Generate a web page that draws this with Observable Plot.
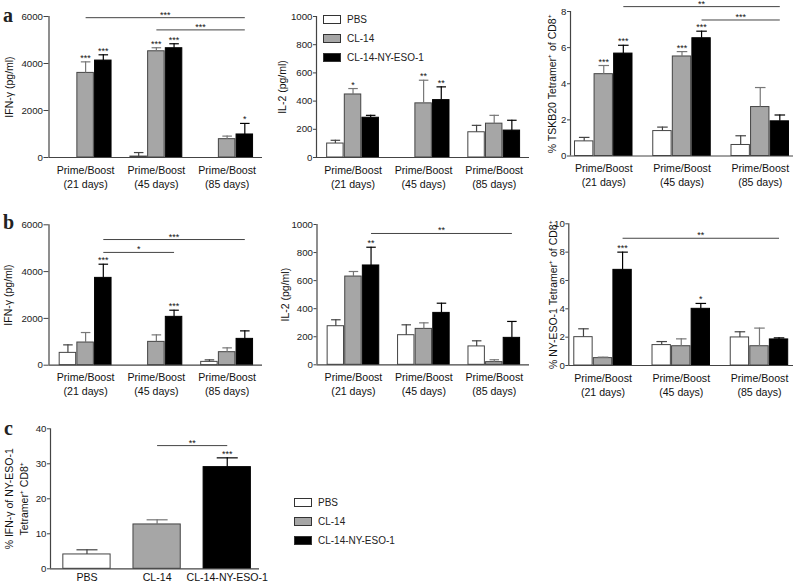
<!DOCTYPE html>
<html><head><meta charset="utf-8">
<script src="https://cdn.jsdelivr.net/npm/d3@7"></script>
<script src="https://cdn.jsdelivr.net/npm/@observablehq/plot@0.6"></script>
<style>
body{margin:0;background:#fff;}
#fig{position:relative;width:793px;height:583px;overflow:hidden;font-family:"Liberation Sans",Arial,Helvetica,sans-serif;color:#222;}
.panel{position:absolute;}
.letter{position:absolute;font-family:"Liberation Serif","Times New Roman",serif;font-weight:bold;font-size:20px;line-height:1;}
.legend{position:absolute;font-size:10px;}
.legend .row{display:flex;align-items:center;height:19px;}
.legend .sw{width:16px;height:7px;border:1px solid #333;margin-right:6px;}
</style></head><body><div id="fig"></div><script>
// ---------- data ----------
const series = ["PBS", "CL-14", "CL-14-NY-ESO-1"];
const groups = ["Prime/Boost\n(21 days)", "Prime/Boost\n(45 days)", "Prime/Boost\n(85 days)"];
const fills = ["#ffffff", "#a6a6a6", "#000000"];
const barStroke = ["#444444", "#444444", "#000000"];
const errStroke = ["#444444", "#777777", "#000000"];

// panel a – IFN-γ
const aIfnMean = [[null, 3600, 4125], [40, 4520, 4650], [null, 780, 980]];
const aIfnSem = [[null, 470, 245], [170, 150, 190], [null, 130, 470]];
const aIfnStars = [["", "***", "***"], ["", "***", "***"], ["", "", "*"]];
const aIfnBrackets = [{from: [0, 1], to: [2, 2], y: 5950, label: "***"}, {from: [1, 1], to: [2, 2], y: 5430, label: "***"}];
// panel a – IL-2
const aIl2Mean = [[99, 447, 282], [null, 384, 407], [179, 240, 191]];
const aIl2Sem = [[23, 42, 17], [null, 164, 94], [49, 59, 73]];
const aIl2Stars = [["", "*", ""], ["", "**", "**"], ["", "", ""]];
const aIl2Brackets = [];
// panel a – TSKB20 tetramer
const aTetMean = [[0.81, 4.53, 5.67], [1.38, 5.51, 6.52], [0.61, 2.71, 1.92]];
const aTetSem = [[0.22, 0.48, 0.46], [0.22, 0.27, 0.39], [0.51, 1.08, 0.35]];
const aTetStars = [["", "***", "***"], ["", "***", "***"], ["", "", ""]];
const aTetBrackets = [{from: [0, 2], to: [2, 2], y: 8.27, label: "**"}, {from: [1, 2], to: [2, 2], y: 7.53, label: "***"}];
// panel b – IFN-γ
const bIfnMean = [[527, 969, 3732], [null, 997, 2066], [142, 556, 1125]];
const bIfnSem = [[342, 427, 584], [null, 299, 284], [86, 185, 342]];
const bIfnStars = [["", "", "***"], ["", "", "***"], ["", "", ""]];
const bIfnBrackets = [{from: [0, 2], to: [2, 2], y: 5370, label: "***"}, {from: [0, 2], to: [1, 2], y: 4820, label: "*"}];
// panel b – IL-2
const bIl2Mean = [[275, 629, 708], [211, 256, 370], [131, 19, 192]];
const bIl2Sem = [[46, 36, 130], [74, 43, 69], [40, 17, 117]];
const bIl2Stars = [["", "", "**"], ["", "", ""], ["", "", ""]];
const bIl2Brackets = [{from: [0, 2], to: [2, 2], y: 936, label: "**"}];
// panel b – NY-ESO-1 tetramer
const bTetMean = [[2.0, 0.52, 6.75], [1.44, 1.36, 4.0], [1.98, 1.36, 1.84]];
const bTetSem = [[0.59, 0.07, 1.25], [0.25, 0.52, 0.38], [0.40, 1.28, 0.11]];
const bTetStars = [["", "", "***"], ["", "", "*"], ["", "", ""]];
const bTetBrackets = [{from: [0, 2], to: [2, 2], y: 8.98, label: "**"}];
// panel c
const cMean = [4.1, 12.67, 29.05];
const cSem = [1.33, 1.33, 2.65];
const cStars = ["", "", "***"];
const cBrackets = [{from: 1, to: 2, y: 35.2, label: "**"}];

// ---------- drawing ----------
const FONT = '"Liberation Sans", Arial, Helvetica, sans-serif';
const fig = document.getElementById("fig");
function place(node, left, top) {
  const w = document.createElement("div");
  w.className = "panel"; w.style.left = left + "px"; w.style.top = top + "px";
  w.appendChild(node); fig.appendChild(w);
}
function letter(t, left, top) {
  const d = document.createElement("div"); d.className = "letter";
  d.style.left = left + "px"; d.style.top = top + "px"; d.textContent = t; fig.appendChild(d);
}
function legend(left, top) {
  const d = document.createElement("div"); d.className = "legend";
  d.style.left = left + "px"; d.style.top = top + "px";
  series.forEach((s, i) => {
    const r = document.createElement("div"); r.className = "row";
    const sw = document.createElement("div"); sw.className = "sw"; sw.style.background = fills[i];
    const t = document.createElement("span"); t.textContent = s;
    r.appendChild(sw); r.appendChild(t); d.appendChild(r);
  });
  fig.appendChild(d);
}

function groupedPanel(p) {
  const rows = [];
  p.mean.forEach((gv, g) => gv.forEach((v, s) => {
    if (v == null) return;
    rows.push({s, slot: g * 4 + s, mean: v, top: v + p.sem[g][s], star: p.stars[g][s]});
  }));
  const brk = p.brackets.map(b => ({x1: b.from[0] * 4 + b.from[1], x2: b.to[0] * 4 + b.to[1], y: b.y, label: b.label}));
  const grp = groups.map((label, g) => ({slot: g * 4 + 1, label}));
  return Plot.plot({
    width: p.w, height: p.h,
    marginLeft: p.mL, marginTop: p.mT, marginBottom: p.mB, marginRight: p.mR,
    style: {fontFamily: FONT, fontSize: "9.7px", color: "#222", background: "transparent", overflow: "visible"},
    x: {domain: p.xDomain, axis: null},
    y: {domain: [0, p.yMax]},
    color: {type: "identity"},
    marks: [
      Plot.rect(rows, {x1: d => d.slot - 0.5, x2: d => d.slot + 0.5, y1: 0, y2: "mean",
        fill: d => fills[d.s], stroke: d => barStroke[d.s], strokeWidth: 1, insetLeft: 0.6, insetRight: 0.6}),
      Plot.ruleX(rows, {x: "slot", y1: "mean", y2: "top", stroke: d => errStroke[d.s], strokeWidth: 1.2}),
      Plot.link(rows, {x1: d => d.slot - 0.27, x2: d => d.slot + 0.27, y1: "top", y2: "top", stroke: d => errStroke[d.s], strokeWidth: 1.2}),
      Plot.text(rows.filter(d => d.star), {x: "slot", y: "top", text: "star", lineAnchor: "bottom", dy: -1, fontSize: 9, fill: "#111"}),
      Plot.link(brk, {x1: "x1", x2: "x2", y1: "y", y2: "y", stroke: "#444", strokeWidth: 1}),
      Plot.text(brk, {x: d => (d.x1 + d.x2) / 2, y: "y", text: "label", lineAnchor: "bottom", dy: 0, fontSize: 9, fill: "#111"}),
      Plot.ruleY([0], {stroke: "#444", strokeWidth: 1.2}),
      Plot.ruleX([p.xDomain[0]], {y1: 0, y2: p.yMax, stroke: "#444", strokeWidth: 1.2}),
      Plot.axisY({ticks: p.yTicks, tickSize: p.tickSize, tickPadding: 1, tickFormat: d => String(d), fontSize: 9.7, label: null, stroke: "#444"}),
      Plot.text(grp, {x: "slot", text: "label", frameAnchor: "bottom", lineAnchor: "top", textAnchor: "middle", dy: 6.5, lineHeight: 1.3, fontSize: 10.6, fill: "#111"}),
      Plot.text([p.yLabel], {text: d => d, frameAnchor: "left", textAnchor: "middle", lineAnchor: "middle", rotate: -90, dx: p.labelDx, fontSize: 10.5, fill: "#111"})
    ]
  });
}

function singlePanel(p) {
  const rows = p.mean.map((v, i) => ({s: i, slot: i, mean: v, top: v + p.sem[i], star: p.stars[i], name: series[i]}));
  const brk = p.brackets.map(b => ({x1: b.from, x2: b.to, y: b.y, label: b.label}));
  return Plot.plot({
    width: p.w, height: p.h,
    marginLeft: p.mL, marginTop: p.mT, marginBottom: p.mB, marginRight: p.mR,
    style: {fontFamily: FONT, fontSize: "9.7px", color: "#222", background: "transparent", overflow: "visible"},
    x: {domain: p.xDomain, axis: null},
    y: {domain: [0, p.yMax]},
    color: {type: "identity"},
    marks: [
      Plot.rect(rows, {x1: d => d.slot - 0.337, x2: d => d.slot + 0.337, y1: 0, y2: "mean",
        fill: d => fills[d.s], stroke: d => barStroke[d.s], strokeWidth: 1}),
      Plot.ruleX(rows, {x: "slot", y1: "mean", y2: "top", stroke: d => errStroke[d.s], strokeWidth: 1.2}),
      Plot.link(rows, {x1: d => d.slot - 0.15, x2: d => d.slot + 0.15, y1: "top", y2: "top", stroke: d => errStroke[d.s], strokeWidth: 1.2}),
      Plot.text(rows.filter(d => d.star), {x: "slot", y: "top", text: "star", lineAnchor: "bottom", dy: -1, fontSize: 9, fill: "#111"}),
      Plot.link(brk, {x1: "x1", x2: "x2", y1: "y", y2: "y", stroke: "#444", strokeWidth: 1}),
      Plot.text(brk, {x: d => (d.x1 + d.x2) / 2, y: "y", text: "label", lineAnchor: "bottom", dy: 0, fontSize: 9, fill: "#111"}),
      Plot.ruleY([0], {stroke: "#444", strokeWidth: 1.2}),
      Plot.ruleX([p.xDomain[0]], {y1: 0, y2: p.yMax, stroke: "#444", strokeWidth: 1.2}),
      Plot.axisY({ticks: p.yTicks, tickSize: 3, tickPadding: 1, tickFormat: d => String(d), fontSize: 9.7, label: null, stroke: "#444"}),
      Plot.text(rows, {x: "slot", text: "name", frameAnchor: "bottom", lineAnchor: "top", textAnchor: "middle", dy: 5, fontSize: 10.6, fill: "#111"}),
      Plot.text([p.yLabel], {text: d => d, frameAnchor: "left", textAnchor: "middle", lineAnchor: "middle", rotate: -90, dx: p.labelDx, lineHeight: 1.45, fontSize: 10.5, fill: "#111"})
    ]
  });
}

const wideDomain = [-1.07, 11.0];

place(groupedPanel({mean: aIfnMean, sem: aIfnSem, stars: aIfnStars, brackets: aIfnBrackets,
  yMax: 6000, yTicks: [0, 2000, 4000, 6000], yLabel: "IFN-γ (pg/ml)", labelDx: -39, tickSize: 5,
  w: 268, h: 195, mL: 48.5, mT: 16, mB: 38, mR: 6, xDomain: wideDomain}), 0, 0);
place(groupedPanel({mean: aIl2Mean, sem: aIl2Sem, stars: aIl2Stars, brackets: aIl2Brackets,
  yMax: 1000, yTicks: [0, 200, 400, 600, 800, 1000], yLabel: "IL-2 (pg/ml)", labelDx: -34, tickSize: 3,
  w: 264, h: 195, mL: 48, mT: 16, mB: 38, mR: 3, xDomain: wideDomain}), 268, 0);
place(groupedPanel({mean: aTetMean, sem: aTetSem, stars: aTetStars, brackets: aTetBrackets,
  yMax: 8, yTicks: [0, 2, 4, 6, 8], yLabel: "% TSKB20 Tetramer⁺ of CD8⁺", labelDx: -17.5, tickSize: 3,
  w: 261, h: 195, mL: 38, mT: 11, mB: 39.5, mR: 0, xDomain: [-0.7, 10.7]}), 532, 0);

place(groupedPanel({mean: bIfnMean, sem: bIfnSem, stars: bIfnStars, brackets: bIfnBrackets,
  yMax: 6000, yTicks: [0, 2000, 4000, 6000], yLabel: "IFN-γ (pg/ml)", labelDx: -40, tickSize: 5,
  w: 268, h: 195, mL: 48.5, mT: 19.3, mB: 35.3, mR: 6, xDomain: wideDomain}), 0, 205);
place(groupedPanel({mean: bIl2Mean, sem: bIl2Sem, stars: bIl2Stars, brackets: bIl2Brackets,
  yMax: 1000, yTicks: [0, 200, 400, 600, 800, 1000], yLabel: "IL-2 (pg/ml)", labelDx: -31.5, tickSize: 3,
  w: 264, h: 195, mL: 48.5, mT: 19, mB: 35.7, mR: 3, xDomain: wideDomain}), 268, 205);
place(groupedPanel({mean: bTetMean, sem: bTetSem, stars: bTetStars, brackets: bTetBrackets,
  yMax: 10, yTicks: [0, 2, 4, 6, 8, 10], yLabel: "% NY-ESO-1 Tetramer⁺ of CD8⁺", labelDx: -15, tickSize: 3,
  w: 261, h: 195, mL: 36.3, mT: 18.3, mB: 35, mR: 0, xDomain: [-0.75, 10.74]}), 532, 205);

place(singlePanel({mean: cMean, sem: cSem, stars: cStars, brackets: cBrackets,
  yMax: 40, yTicks: [0, 10, 20, 30, 40], yLabel: "% IFN-γ of NY-ESO-1\nTetramer⁺ CD8⁺", labelDx: -34.5,
  w: 270, h: 178, mL: 50, mT: 23.3, mB: 14.7, mR: 11, xDomain: [-0.52, 2.46]}), 0, 405);

legend(323, 10);
legend(294, 493);
letter("a", 3, 5);
letter("b", 3, 212);
letter("c", 4, 418);
</script></body></html>
